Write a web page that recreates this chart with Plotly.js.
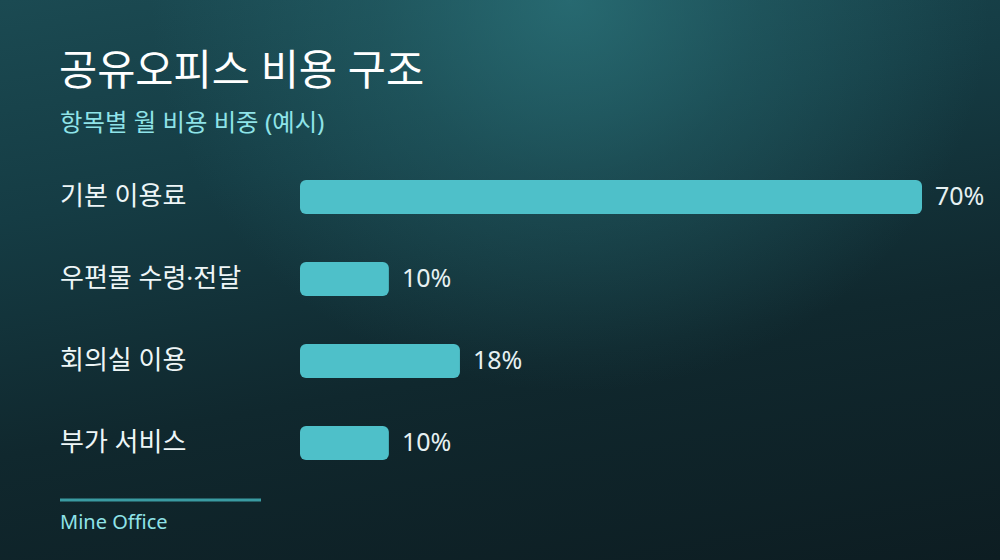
<!DOCTYPE html>
<html>
<head>
<meta charset="utf-8">
<script src="https://cdn.plot.ly/plotly-3.0.1.min.js"></script>
<style>
  html, body { margin: 0; padding: 0; }
  body {
    width: 1000px; height: 560px; overflow: hidden;
    background:
      radial-gradient(ellipse 42% 70% at 57% 0%, rgba(44,118,125,0.75) 0%, rgba(44,118,125,0.35) 45%, rgba(44,118,125,0) 100%),
      linear-gradient(170deg, #1b4a52 0%, #153c44 30%, #10282e 62%, #0d1d22 100%);
  }
  #chart { width: 1000px; height: 560px; }
</style>
</head>
<body>
<div id="chart"></div>
<script>
const categories = ['기본 이용료', '우편물 수령·전달', '회의실 이용', '부가 서비스'];
const shares = [70, 10, 18, 10];
const valueLabels = ['70%', '10%', '18%', '10%'];

const W = 1000, H = 560;
const M = { l: 300, r: 0, t: 156, b: 76 };
const plotW = W - M.l - M.r, plotH = H - M.t - M.b;
// page pixel -> paper coords
const px = x => (x - M.l) / plotW;
const py = y => (H - M.b - y) / plotH;

const font = "'Noto Sans', 'Noto Sans CJK KR', sans-serif";
const barColor = '#4ec0c9';

const annotations = [
  { text: '공유오피스 비용 구조', xref: 'paper', yref: 'paper', x: px(57), y: py(69),
    xanchor: 'left', yanchor: 'middle', showarrow: false,
    font: { family: font, size: 41.5, color: '#ffffff' } },
  { text: '항목별 월 비용 비중 (예시)', xref: 'paper', yref: 'paper', x: px(58), y: py(121),
    xanchor: 'left', yanchor: 'middle', showarrow: false,
    font: { family: font, size: 24.4, color: '#8fe3e8' } },
  { text: 'Mine Office', xref: 'paper', yref: 'paper', x: px(58), y: py(521),
    xanchor: 'left', yanchor: 'middle', showarrow: false,
    font: { family: font, size: 20, color: '#8fe3e8' } },
];

categories.forEach((c, i) => {
  annotations.push({ text: c, xref: 'paper', yref: 'y', x: 0, xshift: -242, y: c, yshift: 2,
    xanchor: 'left', yanchor: 'middle', showarrow: false,
    font: { family: font, size: 26, color: '#eef6f7' } });
  annotations.push({ text: valueLabels[i], xref: 'x', yref: 'y', x: shares[i], xshift: 11, y: c, yshift: 2,
    xanchor: 'left', yanchor: 'middle', showarrow: false,
    font: { family: font, size: 25, color: '#e6f1f2' } });
});

// an explicit base makes plotly round all four corners of each bar
Plotly.newPlot('chart', [{
  type: 'bar', orientation: 'h',
  y: categories, x: shares, base: shares.map(() => 0),
  width: 0.415,
  marker: { color: barColor, cornerradius: 6, line: { width: 0 } },
  hoverinfo: 'skip',
}], {
  width: W, height: H,
  margin: M,
  paper_bgcolor: 'rgba(0,0,0,0)', plot_bgcolor: 'rgba(0,0,0,0)',
  showlegend: false,
  xaxis: { range: [0, plotW / (622 / 70)], visible: false, fixedrange: true },
  yaxis: { autorange: 'reversed', visible: false, fixedrange: true },
  annotations: annotations,
  shapes: [{ type: 'line', xref: 'paper', yref: 'paper',
    x0: px(60), x1: px(261), y0: py(500), y1: py(500),
    line: { color: '#3a9ba2', width: 3 } }],
}, { displayModeBar: false, staticPlot: true });
</script>
</body>
</html>
